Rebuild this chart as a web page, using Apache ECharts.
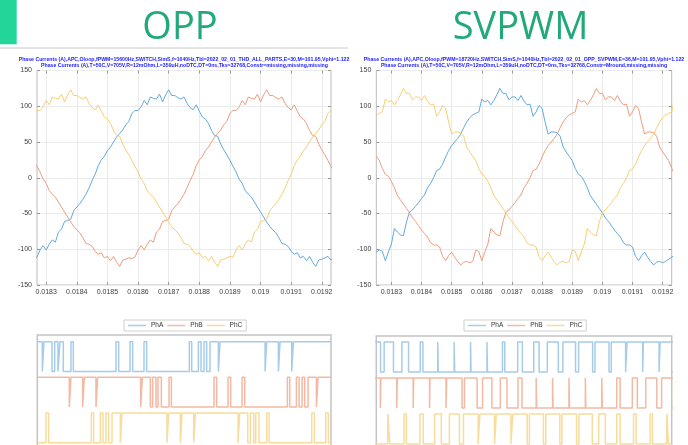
<!DOCTYPE html>
<html><head><meta charset="utf-8">
<script src="https://cdn.jsdelivr.net/npm/echarts@6/dist/echarts.min.js"></script>
<style>html,body{margin:0;padding:0;background:#fff}#c{width:688px;height:445px}</style>
</head><body><div id="c"></div>
<script>
// ---- sample times (s) ----
const tSamples = [
0.01825,0.01826,0.01827,0.01828,0.01829,0.01830,0.01831,0.01832,0.01833,0.01834,
0.01835,0.01836,0.01837,0.01838,0.01839,0.01840,0.01841,0.01842,0.01843,0.01844,
0.01845,0.01846,0.01847,0.01848,0.01849,0.01850,0.01851,0.01852,0.01853,0.01854,
0.01855,0.01856,0.01857,0.01858,0.01859,0.01860,0.01861,0.01862,0.01863,0.01864,
0.01865,0.01866,0.01867,0.01868,0.01869,0.01870,0.01871,0.01872,0.01873,0.01874,
0.01875,0.01876,0.01877,0.01878,0.01879,0.01880,0.01881,0.01882,0.01883,0.01884,
0.01885,0.01886,0.01887,0.01888,0.01889,0.01890,0.01891,0.01892,0.01893,0.01894,
0.01895,0.01896,0.01897,0.01898,0.01899,0.01900,0.01901,0.01902,0.01903,0.01904,
0.01905,0.01906,0.01907,0.01908,0.01909,0.01910,0.01911,0.01912,0.01913,0.01914,
0.01915,0.01916,0.01917,0.01918,0.01919,0.01920,0.01921,0.01922,0.01923,0.01924];

// ---- OPP phase currents (A) ----
const oppPhA = [-115,-113,-111,-101,-95,-101,-93,-87,-90,-76,-72,-61,-60,-58,-46,-41,-36,-30,-23,-14,
-4,5,17,25,30,38,43,50,57,62,67,74,79,90,94,94,99,108,102,113,
111,110,117,106,116,123,115,115,112,110,113,104,98,95,102,93,85,82,76,66,
59,58,47,39,32,24,16,8,-2,-8,-18,-23,-27,-34,-41,-48,-55,-62,-68,-73,
-77,-84,-92,-93,-96,-103,-107,-105,-112,-110,-116,-110,-118,-124,-115,-114,-112,-110,-115,-112];
const oppPhB = [32,24,16,8,-2,-8,-18,-23,-27,-34,-41,-48,-55,-62,-68,-73,-77,-84,-92,-93,
-96,-103,-107,-105,-112,-110,-116,-110,-118,-124,-115,-114,-112,-113,-111,-101,-95,-101,-93,-87,
-90,-76,-72,-61,-60,-58,-46,-41,-36,-30,-23,-14,-4,5,17,25,30,38,43,50,
57,62,67,74,79,90,94,94,99,108,102,113,111,110,117,106,116,123,115,115,
112,110,113,104,98,95,102,93,85,82,76,66,59,58,47,39,32,24,16,8];
const oppPhC = [79,90,94,94,99,108,102,113,111,110,117,106,116,123,115,115,112,110,113,104,
98,95,102,93,85,82,76,66,59,58,47,39,32,24,16,8,-2,-8,-18,-23,
-27,-34,-41,-48,-55,-62,-68,-73,-77,-84,-92,-93,-96,-103,-107,-105,-112,-110,-116,-110,
-118,-124,-115,-114,-112,-110,-111,-101,-95,-101,-93,-87,-90,-76,-72,-61,-60,-58,-46,-41,
-36,-30,-23,-14,-4,5,17,25,30,38,43,50,57,62,67,74,79,90,94,94];

// ---- SVPWM phase currents (A) ----
const svPhA = [-104,-101,-103,-116,-104,-93,-71,-76,-80,-81,-62,-48,-45,-40,-35,-29,-24,-14,-8,0,
10,12,19,29,38,45,50,55,61,70,78,84,88,90,92,110,106,108,102,108,
116,125,118,118,109,113,113,108,115,107,102,103,86,92,101,97,78,61,64,64,
63,58,43,36,30,24,13,5,2,-5,-14,-25,-31,-37,-43,-49,-56,-61,-67,-73,
-78,-83,-91,-94,-94,-97,-110,-116,-109,-104,-111,-117,-122,-118,-117,-119,-117,-114,-111,-108];
const svPhB = [30,24,13,5,2,-5,-14,-25,-31,-37,-43,-49,-56,-61,-67,-73,-78,-83,-91,-94,
-94,-97,-110,-116,-109,-104,-111,-117,-122,-118,-117,-119,-117,-101,-103,-116,-104,-93,-71,-76,
-80,-81,-62,-48,-45,-40,-35,-29,-24,-14,-8,0,10,12,19,29,38,45,50,55,
61,70,78,84,88,90,92,110,106,108,102,108,116,125,118,118,109,113,113,108,
115,107,102,103,86,92,101,97,78,61,64,64,63,58,43,36,30,24,13,5];
const svPhC = [88,90,92,110,106,108,102,108,116,125,118,118,109,113,113,108,115,107,102,103,
86,92,101,97,78,61,64,64,63,58,43,36,30,24,13,5,2,-5,-14,-25,
-31,-37,-43,-49,-56,-61,-67,-73,-78,-83,-91,-94,-94,-97,-110,-116,-109,-104,-111,-117,
-122,-118,-117,-119,-117,-101,-103,-116,-104,-93,-71,-76,-80,-81,-62,-48,-45,-40,-35,-29,
-24,-14,-8,0,10,12,19,29,38,45,50,55,61,70,78,84,88,90,92,110];

const xTickValues = [0.0183,0.0184,0.0185,0.0186,0.0187,0.0188,0.0189,0.019,0.0191,0.0192];

// ---- OPP switching edges (ms) ----
const oppStartA = 1, oppStartB = 1, oppStartC = 0;
const oppEdgesA = [18.2864,18.2918,18.3180,18.3267,18.3376,18.3441,18.3550,18.3801,18.3877,18.5272,
18.5360,18.5730,18.5817,18.6188,18.6275,18.7670,18.7747,18.7965,18.8052,18.8150,
18.8237,18.8346,18.8619,18.8673,19.0145,19.0199,19.0581,19.0635,19.1017,19.1071];
const oppEdgesB = [18.3746,18.3801,18.4182,18.4237,18.4618,18.4673,18.6079,18.6134,18.6395,18.6471,
18.6580,18.6646,18.6755,18.7006,18.7082,18.8477,18.8564,18.8935,18.9022,18.9393,
18.9480,19.0875,19.0951,19.1169,19.1257,19.1355,19.1442,19.1551,19.1823,19.1878];
const oppEdgesC = [18.2983,18.3071,18.4466,18.4542,18.4760,18.4847,18.4945,18.5033,18.5142,18.5414,
18.5469,18.6940,18.6995,18.7376,18.7431,18.7812,18.7867,18.9262,18.9316,18.9578,
18.9665,18.9774,18.9840,18.9949,19.0199,19.0276,19.1671,19.1758,19.2129,19.2216];

// ---- SVPWM pulses: centres (ms) and high widths (us) ----
const svCenters = [18.2371,18.2915,18.3459,18.4003,18.4547,18.5091,18.5635,18.6180,18.6724,18.7268,
18.7812,18.8356,18.8900,18.9444,18.9988,19.0533,19.1077,19.1621,19.2165];
const svWidthA = [54.2,31.0,22.1,8.8,1.7,1.7,1.7,1.7,7.7,15.5,17.7,36.5,42.0,46.5,46.5,47.6,52.0,52.0,49.8];
const svWidthB = [52.8,52.8,52.8,52.8,53.1,50.9,42.0,31.0,22.1,13.3,1.7,1.7,1.7,1.7,1.7,11.1,16.6,36.5,39.8];
const svWidthC = [3.3,6.6,7.7,11.1,22.1,33.2,48.7,48.7,48.7,47.6,46.5,46.5,48.7,44.2,22.1,11.1,8.8,7.7,5.5];

const title1 = ['Phase Currents (A),APC,Oloop,fPWM=15600Hz,SWITCH,SimS,f=1040Hz,Tbl=2022_02_01_THD_ALL_PARTS,E=30,M=101.95,Vphi=1.122',
'Phase Currents (A),T=50C,V=705V,R=12mOhm,L=359uH,noDTC,DT=0ns,Tks=32768,Constr=missing,missing,missing'];
const title2 = ['Phase Currents (A),APC,Oloop,fPWM=18720Hz,SWITCH,SimS,f=1040Hz,Tbl=2022_02_01_OPP_SVPWM,E=36,M=101.95,Vphi=1.122',
'Phase Currents (A),T=50C,V=705V,R=12mOhm,L=359uH,noDTC,DT=0ns,Tks=32768,Constr=Mround,missing,missing'];
const phaseNames = ['PhA','PhB','PhC'];

// ---- colours / layout ----
const topColors = ['#62aadd','#ee9c7e','#f6cf72'];
const botColors = ['#a6cce9','#f3b9a3','#f8dc9c'];
const levels = [[2.4,3.4],[1.2,2.2],[0,1]];

function pairs(arr){ return tSamples.map((t,i)=>[t, arr[i]]); }
function edgesToSteps(edges, start, lv, x0, x1){
  const pts=[]; let s=start;
  pts.push([x0, lv[s]]);
  edges.forEach(e=>{ pts.push([e, lv[s]]); s=1-s; pts.push([e, lv[s]]); });
  pts.push([x1, lv[s]]);
  return pts;
}
function pulsesToSteps(centers, widths, lv, x1){
  const pts=[];
  centers.forEach((c,k)=>{ const h=widths[k]/2000; pts.push([c-h,lv[0]],[c-h,lv[1]],[c+h,lv[1]],[c+h,lv[0]]); });
  pts.push([x1, lv[0]]);
  return pts;
}

const font = '"Liberation Sans", Arial, sans-serif';
const gridTop = [
  {left:37, top:70.5, width:294, height:214.5},
  {left:376.3, top:70.5, width:295.4, height:214.5}
];
const gridBot = [
  {left:37.3, top:335, width:293.7, height:113.6},
  {left:376.3, top:336, width:295.4, height:114}
];
const grids = [];
gridTop.forEach(g=>grids.push(Object.assign({show:true, borderColor:'#bcbcbc', borderWidth:1, outerBoundsMode:'none', containLabel:false}, g)));
gridBot.forEach(g=>grids.push(Object.assign({show:true, borderColor:'#c4c4c4', borderWidth:1.5, outerBoundsMode:'none', containLabel:false}, g)));

const xRanges = [[0.01827,0.01923],[0.01825,0.01923]];
const xRangesMs = [[18.27,19.23],[18.25,19.23]];
const xAxes = [], yAxes = [];
const tickStyle = {color:'#9a9a9a'};
[0,1].forEach(k=>{
  xAxes.push({type:'value', gridIndex:k, min:xRanges[k][0], max:xRanges[k][1], position:'bottom',
    axisLine:{show:false, onZero:false},
    axisTick:{show:true, inside:true, length:3, customValues:xTickValues, lineStyle:tickStyle},
    axisLabel:{show:true, customValues:xTickValues, fontSize:7, fontFamily:font, color:'#404040', margin:4},
    splitLine:{show:true, lineStyle:{color:'#ebebeb', width:1}}});
  xAxes.push({type:'value', gridIndex:k, min:xRanges[k][0], max:xRanges[k][1], position:'top',
    axisLine:{show:false, onZero:false},
    axisTick:{show:true, inside:true, length:3, customValues:xTickValues, lineStyle:tickStyle},
    axisLabel:{show:false}, splitLine:{show:false}});
  yAxes.push({type:'value', gridIndex:k, min:-150, max:150, interval:50, position:'left',
    axisLine:{show:false, onZero:false},
    axisTick:{show:true, inside:true, length:3, lineStyle:tickStyle},
    axisLabel:{show:true, fontSize:7, fontFamily:font, color:'#404040', margin:5},
    splitLine:{show:true, lineStyle:{color:'#ebebeb', width:1}}});
  yAxes.push({type:'value', gridIndex:k, min:-150, max:150, interval:50, position:'right',
    axisLine:{show:false, onZero:false},
    axisTick:{show:true, inside:true, length:3, lineStyle:tickStyle},
    axisLabel:{show:false}, splitLine:{show:false}});
});
[0,1].forEach(k=>{
  xAxes.push({type:'value', gridIndex:2+k, min:xRangesMs[k][0], max:xRangesMs[k][1], show:false, axisLine:{onZero:false}});
  yAxes.push({type:'value', gridIndex:2+k, min:-0.2, max:k===0?3.625:3.6, show:false, axisLine:{onZero:false}});
});

const series = [];
const topData = [[oppPhA,oppPhB,oppPhC],[svPhA,svPhB,svPhC]];
[0,1].forEach(k=>{
  topData[k].forEach((arr,p)=>{
    series.push({type:'line', name:'I'+phaseNames[p]+k, xAxisIndex:2*k, yAxisIndex:2*k,
      data:pairs(arr), showSymbol:false, symbol:'none', clip:true,
      itemStyle:{color:topColors[p]}, lineStyle:{color:topColors[p], width:1}});
  });
});
const oppSteps = [
  edgesToSteps(oppEdgesA, oppStartA, levels[0], xRangesMs[0][0], xRangesMs[0][1]),
  edgesToSteps(oppEdgesB, oppStartB, levels[1], xRangesMs[0][0], xRangesMs[0][1]),
  edgesToSteps(oppEdgesC, oppStartC, levels[2], xRangesMs[0][0], xRangesMs[0][1])];
const svSteps = [
  pulsesToSteps(svCenters, svWidthA, levels[0], xRangesMs[1][1]),
  pulsesToSteps(svCenters, svWidthB, levels[1], xRangesMs[1][1]),
  pulsesToSteps(svCenters, svWidthC, levels[2], xRangesMs[1][1])];
[oppSteps, svSteps].forEach((steps,k)=>{
  steps.forEach((d,p)=>{
    series.push({type:'line', name:phaseNames[p], xAxisIndex:4+k, yAxisIndex:4+k,
      data:d, showSymbol:false, symbol:'none', clip:true,
      itemStyle:{color:botColors[p]}, lineStyle:{color:botColors[p], width:1.5}});
  });
});

const legendBase = {data:phaseNames, top:320, icon:'rect', itemWidth:18, itemHeight:1.5, itemGap:4,
  padding:[2,4], borderColor:'#cfcfcf', borderWidth:1, selectedMode:false,
  textStyle:{fontSize:6.5, fontFamily:font, color:'#333'}};

const graphic = [
  {type:'rect', shape:{x:0,y:0,width:16.7,height:44.3}, style:{fill:'#22d69a'}},
  {type:'line', shape:{x1:0,y1:48,x2:348,y2:48}, style:{stroke:'#c8c8c8', lineWidth:1}},
  {type:'text', x:180, y:28, style:{text:'OPP', font:'38px "Open Sans"', fill:'#22a97a', align:'center', verticalAlign:'middle'}},
  {type:'text', x:520.5, y:28, style:{text:'SVPWM', font:'38px "Open Sans"', fill:'#22a97a', align:'center', verticalAlign:'middle'}},
  {type:'text', x:184, y:59.3, style:{text:title1[0], font:'bold 5.2px "Liberation Sans"', fill:'#1a1aff', align:'center', verticalAlign:'middle'}},
  {type:'text', x:184.5, y:66, style:{text:title1[1], font:'bold 5.2px "Liberation Sans"', fill:'#1a1aff', align:'center', verticalAlign:'middle'}},
  {type:'text', x:524, y:59.3, style:{text:title2[0], font:'bold 5.2px "Liberation Sans"', fill:'#1a1aff', align:'center', verticalAlign:'middle'}},
  {type:'text', x:524, y:66, style:{text:title2[1], font:'bold 5.2px "Liberation Sans"', fill:'#1a1aff', align:'center', verticalAlign:'middle'}}
];

const chart = echarts.init(document.getElementById('c'), null, {renderer:'canvas'});
chart.setOption({
  animation:false,
  backgroundColor:'#ffffff',
  grid:grids, xAxis:xAxes, yAxis:yAxes, series:series,
  legend:[Object.assign({left:124}, legendBase), Object.assign({left:464}, legendBase)],
  graphic:graphic
});
</script></body></html>
